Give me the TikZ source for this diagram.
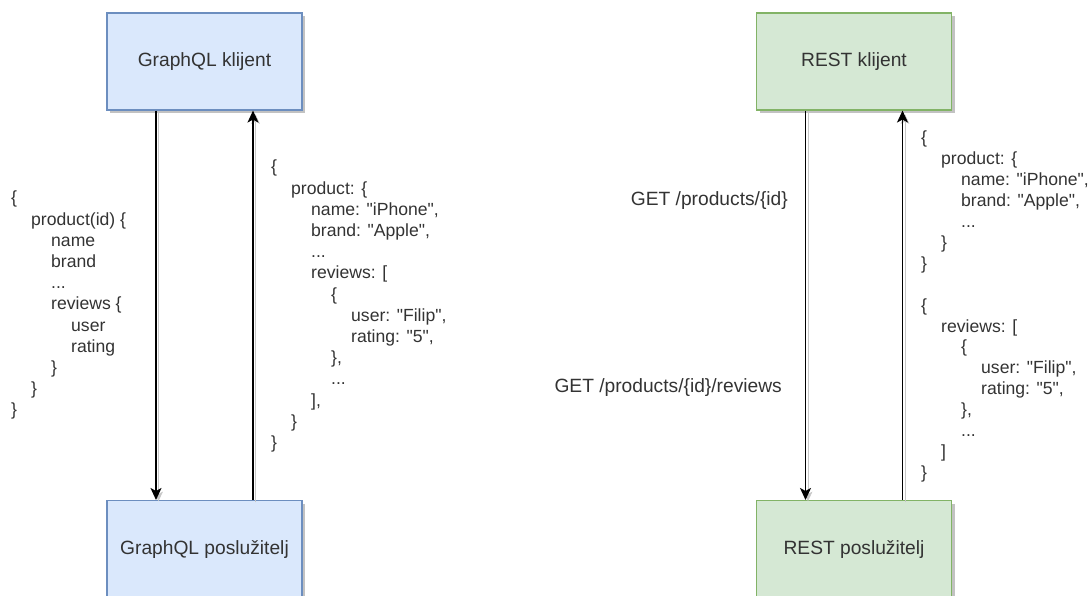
\documentclass[tikz,border=0pt]{standalone}
\usepackage{fontspec}
\setmainfont{Liberation Sans}[Ligatures=TeXOff]
\usetikzlibrary{arrows.meta,shadows}
\definecolor{gqlfill}{HTML}{DAE8FC}
\definecolor{gqlline}{HTML}{6C8EBF}
\definecolor{restfill}{HTML}{D5E8D4}
\definecolor{restline}{HTML}{82B366}
\definecolor{txt}{HTML}{333333}
\newcommand\ind[1]{\hspace*{#1pt}}
\tikzset{
  box/.style={draw, line width=1.1pt, minimum width=195pt, minimum height=97pt, inner sep=0pt,
    font=\fontsize{19.2}{23}\selectfont, text=txt,
    drop shadow={shadow xshift=3pt, shadow yshift=-3pt, fill=black!40, opacity=.6}},
  code/.style={anchor=north west, align=left, inner sep=0pt, text=txt, font=\fontsize{17.6}{21.2}\selectfont},
  reqtext/.style={anchor=base east, inner sep=0pt, text=txt, font=\fontsize{19.2}{23}\selectfont},
  msg/.style={-{Stealth[length=12pt,width=11pt,inset=3pt]}, line width=1.5pt,
    preaction={draw=black!22, transform canvas={xshift=2.5pt,yshift=-2.5pt}}},
}
\begin{document}
\begin{tikzpicture}[x=1pt,y=-1pt]
\useasboundingbox (0,0) rectangle (1089,595);
% GraphQL
\node[box, fill=gqlfill, draw=gqlline] (gqlClient) at (204.5,61.5) {GraphQL klijent};
\node[box, fill=gqlfill, draw=gqlline] (gqlServer) at (204.5,549) {GraphQL poslužitelj};
\draw[msg] ([xshift=-48.5pt]gqlClient.south) -- ([xshift=-48.5pt]gqlServer.north);
\draw[msg] ([xshift=48.5pt]gqlServer.north) -- ([xshift=48.5pt]gqlClient.south);
\node[code] (gqlQuery) at (11,191) {\{\\
  \ind{20}product(id) \{\\
  \ind{40}name\\
  \ind{40}brand\\
  \ind{40}...\\
  \ind{40}reviews \{\\
  \ind{60}user\\
  \ind{60}rating\\
  \ind{40}\}\\
  \ind{20}\}\\
  \}};
\node[code] (gqlReply) at (271,160) {\{\\
  \ind{20}product: \{\\
  \ind{40}name: "iPhone",\\
  \ind{40}brand: "Apple",\\
  \ind{40}...\\
  \ind{40}reviews: [\\
  \ind{60}\{\\
  \ind{80}user: "Filip",\\
  \ind{80}rating: "5",\\
  \ind{60}\},\\
  \ind{60}...\\
  \ind{40}],\\
  \ind{20}\}\\
  \}};
% REST
\node[box, fill=restfill, draw=restline] (restClient) at (854,61.5) {REST klijent};
\node[box, fill=restfill, draw=restline] (restServer) at (854,549) {REST poslužitelj};
\draw[msg] ([xshift=-48.5pt]restClient.south) -- ([xshift=-48.5pt]restServer.north);
\draw[msg] ([xshift=48.5pt]restServer.north) -- ([xshift=48.5pt]restClient.south);
\node[reqtext] (getProduct) at (788,205) {GET /products/\{id\}};
\node[reqtext] (getReviews) at (782,392) {GET /products/\{id\}/reviews};
\node[code, font=\fontsize{17.6}{20.9}\selectfont] (restReply) at (921,131) {\{\\
  \ind{20}product: \{\\
  \ind{40}name: "iPhone",\\
  \ind{40}brand: "Apple",\\
  \ind{40}...\\
  \ind{20}\}\\
  \}\\
  \mbox{}\\
  \{\\
  \ind{20}reviews: [\\
  \ind{40}\{\\
  \ind{60}user: "Filip",\\
  \ind{60}rating: "5",\\
  \ind{40}\},\\
  \ind{40}...\\
  \ind{20}]\\
  \}};
\end{tikzpicture}
\end{document}
